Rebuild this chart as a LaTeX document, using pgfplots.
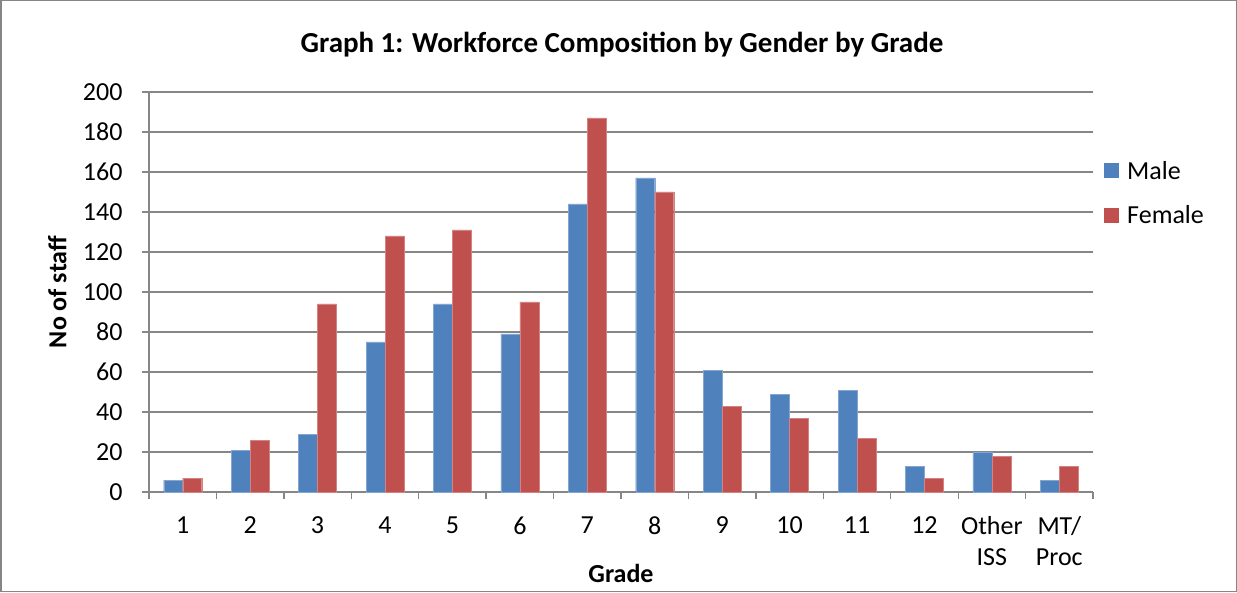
\documentclass[border=0pt]{standalone}
\usepackage{fontspec}
\setmainfont{Carlito}
\usepackage{pgfplots}
\pgfplotsset{compat=1.18}
\definecolor{mblue}{HTML}{4F81BD}
\definecolor{fred}{HTML}{C0504D}
\definecolor{gridgray}{HTML}{868686}
\begin{document}
\begin{tikzpicture}
\draw[gridgray, line width=1.5pt] (0.75pt,0.75pt) rectangle (1236.25pt,591.25pt);
\begin{axis}[
  at={(149pt,100pt)}, anchor=south west,
  scale only axis, width=944pt, height=400pt,
  ybar=0pt, bar width=19pt,
  xmin=-0.5, xmax=13.5, ymin=0, ymax=200,
  xtick={0,...,13},
  xticklabels={1,2,3,4,5,6,7,8,9,10,11,12,{Other\\ISS},{MT/\\Proc}},
  minor xtick={-0.5,0.5,...,13.5},
  ytick={0,20,...,200},
  major x tick style={draw=none},
  tick align=outside, major tick length=7pt, minor tick length=7pt,
  tick style={gridgray, line width=1.3pt},
  axis x line*=bottom, axis y line*=left,
  axis line style={gridgray, line width=1.3pt, -},
  ymajorgrids, grid style={gridgray, line width=1.3pt},
  /pgf/number format/assume math mode=true,
  ticklabel style={font=\fontsize{26}{31}\selectfont},
  xticklabel style={align=center, anchor=north, yshift=-14pt},
  yticklabel style={xshift=-16pt},
  xlabel={Grade}, ylabel={No of staff},
  label style={font=\bfseries\fontsize{26}{31}\selectfont},
  xlabel style={at={(axis description cs:0.5,-0.2025)}, anchor=center},
  ylabel style={at={(axis description cs:-0.097,0.5)}, anchor=center},
  legend cell align=left,
  legend style={draw=none, fill=none, at={(1.0085,0.8375)}, anchor=north west,
    font=\fontsize{26}{31}\selectfont, row sep=21pt},
  legend image code/.code={\fill[#1, draw=none] (0pt,-7.5pt) rectangle (15pt,7.5pt);
    \path[draw=none, fill=none] (0pt,0pt) -- (21pt,0pt);},
]
\addplot[fill=mblue, draw=mblue!70!white] coordinates {
(0,6) (1,21) (2,29) (3,75) (4,94) (5,79) (6,144) (7,157) (8,61) (9,49) (10,51) (11,13) (12,20) (13,6)};
\addplot[fill=fred, draw=fred!70!white] coordinates {
(0,7) (1,26) (2,94) (3,128) (4,131) (5,95) (6,187) (7,150) (8,43) (9,37) (10,27) (11,7) (12,18) (13,13)};
\legend{Male,Female}
\end{axis}
\node[font=\bfseries\fontsize{29}{34}\selectfont, anchor=base] at (622pt,539pt) {Graph 1: Workforce Composition by Gender by Grade};
\end{tikzpicture}
\end{document}
